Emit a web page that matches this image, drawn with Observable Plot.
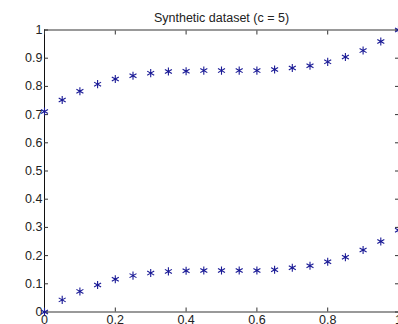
<!DOCTYPE html>
<html>
<head>
<meta charset="utf-8">
<script src="https://cdn.jsdelivr.net/npm/d3@7"></script>
<script src="https://cdn.jsdelivr.net/npm/@observablehq/plot@0.6"></script>
<style>
  html, body { margin: 0; padding: 0; background: #fff; overflow: hidden; }
  svg { display: block; }
</style>
</head>
<body>
<div id="chart"></div>
<script>
const title = "Synthetic dataset (c = 5)";
const xs = [0, 0.05, 0.1, 0.15, 0.2, 0.25, 0.3, 0.35, 0.4, 0.45, 0.5, 0.55, 0.6, 0.65, 0.7, 0.75, 0.8, 0.85, 0.9, 0.95, 1.0];
const upper = [0.711, 0.752, 0.783, 0.808, 0.826, 0.838, 0.847, 0.853, 0.854, 0.856, 0.856, 0.856, 0.856, 0.860, 0.865, 0.873, 0.887, 0.904, 0.927, 0.959, 1.0];
const lower = [0.0, 0.043, 0.073, 0.096, 0.116, 0.129, 0.138, 0.144, 0.146, 0.147, 0.147, 0.147, 0.147, 0.150, 0.157, 0.164, 0.178, 0.194, 0.220, 0.250, 0.290];
const xTicks = [0, 0.2, 0.4, 0.6, 0.8, 1];
const yTicks = [0, 0.1, 0.2, 0.3, 0.4, 0.5, 0.6, 0.7, 0.8, 0.9, 1];

const points = xs.flatMap((x, i) => [{x, y: upper[i]}, {x, y: lower[i]}]);
const fmt = d => d === 0 ? "0" : d === 1 ? "1" : String(d);

const chart = Plot.plot({
  width: 398,
  height: 324,
  marginLeft: 44,
  marginRight: 0,
  marginTop: 29.5,
  marginBottom: 12.5,
  style: {fontFamily: "'Liberation Sans', Arial, sans-serif", fontSize: "12.5px", color: "#222", background: "#fff"},
  x: {domain: [0, 1]},
  y: {domain: [0, 1]},
  marks: [
    Plot.ruleY([1], {stroke: "#777", strokeWidth: 1.6}),
    Plot.ruleY([0], {stroke: "#777", strokeWidth: 1.6}),
    Plot.ruleX([0], {stroke: "#111", strokeWidth: 1}),
    Plot.axisX({anchor: "bottom", ticks: xTicks, tickSize: -4, tickPadding: 7, tickFormat: fmt, label: null, stroke: "#333"}),
    Plot.axisX({anchor: "top", ticks: xTicks, tickSize: -4, tickFormat: () => "", label: null, stroke: "#333"}),
    Plot.axisY({anchor: "left", ticks: yTicks, tickSize: -4, tickPadding: 6, tickFormat: fmt, label: null, stroke: "#333"}),
    Plot.axisY({anchor: "right", ticks: yTicks, tickSize: -4, tickFormat: () => "", label: null, stroke: "#333"}),
    Plot.dot(points, {x: "x", y: "y", symbol: "asterisk", r: 3.8, stroke: "#1a1a96", strokeWidth: 1.1}),
    Plot.text([title], {frameAnchor: "top", dy: -17, fontSize: 12.5, fill: "#222"})
  ]
});
document.getElementById("chart").appendChild(chart);
</script>
</body>
</html>
